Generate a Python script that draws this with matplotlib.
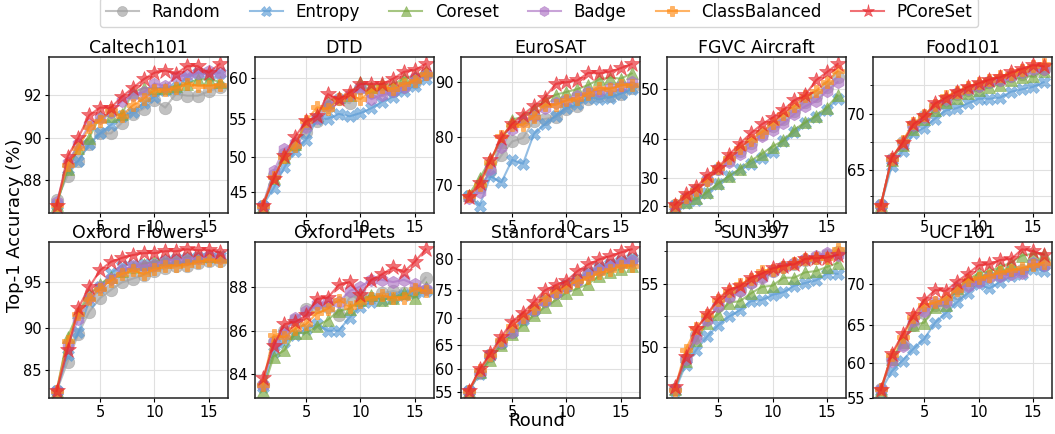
import matplotlib
matplotlib.use("Agg")
import matplotlib.pyplot as plt
import numpy as np

rounds = list(range(1, 17))

methods = ["Random", "Entropy", "Coreset", "Badge", "ClassBalanced", "PCoreSet"]
colors = ["#a0a0a0", "#5b9bd5", "#77a83f", "#ad73c4", "#ff8a12", "#e8252b"]
markers = ["o", "X", "^", "h", "P", "*"]
sizes = [9, 9, 9, 9, 9, 12]

# Top-1 accuracy (%) per round, one dict per dataset
caltech = {
    "Random":        [87.0, 88.2, 88.9, 89.7, 90.2, 90.2, 90.7, 91.1, 91.35, 91.75, 91.4, 92.05, 91.95, 91.95, 92.15, 92.35],
    "Entropy":       [86.8, 88.5, 88.9, 89.7, 90.2, 90.6, 91.0, 91.2, 91.6, 91.9, 92.2, 92.3, 92.8, 93.0, 92.9, 93.0],
    "Coreset":       [86.8, 88.5, 89.5, 90.0, 91.0, 91.0, 91.1, 92.1, 92.3, 92.3, 92.3, 92.4, 92.5, 92.7, 92.7, 92.6],
    "Badge":         [86.9, 88.8, 89.7, 90.6, 90.9, 91.2, 91.7, 92.0, 92.1, 92.5, 92.4, 92.8, 92.9, 93.0, 93.1, 93.0],
    "ClassBalanced": [86.8, 88.7, 89.5, 90.5, 90.8, 91.3, 91.0, 91.5, 91.8, 92.2, 92.2, 92.3, 92.5, 92.4, 92.4, 92.45],
    "PCoreSet":      [86.75, 89.1, 90.0, 91.05, 91.4, 91.4, 91.9, 92.3, 92.7, 93.0, 93.1, 92.95, 93.3, 93.3, 93.0, 93.4],
}
dtd = {
    "Random":        [42.8, 47.5, 50.5, 51.5, 53.4, 54.8, 56.5, 57.5, 57.0, 58.8, 58.3, 58.6, 58.5, 59.0, 59.5, 60.5],
    "Entropy":       [42.8, 45.5, 48.6, 50.9, 52.4, 55.0, 55.1, 55.7, 55.4, 55.8, 56.4, 57.2, 57.8, 58.5, 59.1, 59.9],
    "Coreset":       [42.8, 47.0, 50.0, 51.8, 54.5, 55.5, 57.2, 57.8, 58.0, 59.5, 59.0, 59.3, 59.2, 60.0, 60.2, 60.8],
    "Badge":         [42.8, 48.0, 51.2, 52.0, 54.0, 55.2, 56.8, 57.5, 58.0, 58.8, 57.5, 58.0, 58.5, 59.0, 60.0, 60.5],
    "ClassBalanced": [42.8, 47.2, 50.0, 51.5, 54.8, 56.5, 56.3, 57.5, 58.0, 57.5, 58.5, 59.0, 58.7, 59.3, 59.7, 60.5],
    "PCoreSet":      [42.8, 46.85, 50.2, 52.8, 54.8, 55.4, 58.1, 57.5, 58.3, 59.3, 59.3, 59.3, 59.9, 60.7, 60.9, 61.6],
}
eurosat = {
    "Random":        [67.5, 69.5, 73.0, 76.3, 79.1, 79.8, 83.1, 83.4, 83.7, 85.2, 85.8, 87.0, 87.5, 87.5, 88.0, 89.0],
    "Entropy":       [67.5, 65.3, 71.9, 70.6, 75.4, 74.6, 80.6, 82.4, 84.0, 85.5, 86.1, 87.3, 87.0, 87.3, 88.0, 88.8],
    "Coreset":       [67.8, 71.5, 75.5, 79.0, 83.3, 83.8, 85.3, 86.8, 87.8, 88.3, 88.8, 89.5, 90.5, 90.8, 90.6, 91.5],
    "Badge":         [67.0, 68.5, 73.5, 78.0, 81.5, 83.0, 84.0, 85.5, 86.3, 86.8, 87.5, 88.3, 88.5, 89.0, 89.3, 90.0],
    "ClassBalanced": [67.5, 70.0, 75.0, 80.2, 82.3, 82.3, 83.8, 86.0, 86.0, 86.8, 87.0, 88.0, 89.0, 88.8, 89.5, 89.5],
    "PCoreSet":      [67.4, 70.5, 75.3, 79.8, 82.5, 84.2, 85.8, 87.3, 89.7, 90.0, 90.3, 91.6, 91.5, 91.8, 92.4, 93.1],
}
fgvc = {
    "Random":        [20.2, 23.3, 26.0, 29.5, 32.6, 35.0, 37.2, 39.2, 41.1, 42.8, 44.4, 46.0, 47.7, 48.8, 50.5, 52.2],
    "Entropy":       [20.0, 21.3, 22.5, 25.0, 28.0, 30.5, 32.5, 34.0, 35.5, 37.0, 39.5, 41.5, 43.5, 44.8, 46.2, 48.2],
    "Coreset":       [20.0, 21.5, 23.0, 25.5, 28.3, 30.5, 32.7, 34.8, 36.5, 38.3, 39.7, 42.1, 43.6, 45.0, 46.6, 48.9],
    "Badge":         [20.0, 23.0, 26.0, 29.5, 32.5, 34.5, 36.5, 38.3, 40.8, 42.1, 43.4, 45.3, 46.8, 47.8, 49.7, 51.3],
    "ClassBalanced": [20.3, 23.5, 26.0, 29.5, 32.8, 35.5, 38.0, 39.9, 41.5, 43.4, 45.3, 46.8, 48.7, 49.7, 51.3, 53.2],
    "PCoreSet":      [20.3, 24.5, 27.0, 30.8, 32.9, 36.3, 39.0, 41.3, 43.2, 44.6, 46.1, 48.0, 48.9, 51.6, 53.0, 54.4],
}
food = {
    "Random":        [61.6, 66.0, 67.5, 69.0, 69.8, 70.6, 71.2, 71.7, 72.0, 72.4, 72.7, 72.9, 73.2, 73.4, 73.6, 73.8],
    "Entropy":       [61.6, 65.3, 66.7, 68.3, 68.8, 69.6, 70.3, 70.5, 70.9, 71.3, 71.3, 71.4, 71.9, 72.1, 72.3, 72.7],
    "Coreset":       [61.6, 65.9, 67.3, 68.7, 69.6, 70.3, 71.0, 71.4, 71.8, 72.0, 72.3, 72.5, 72.9, 73.1, 73.2, 73.6],
    "Badge":         [61.6, 66.0, 67.4, 69.0, 69.7, 70.7, 71.3, 71.8, 72.1, 72.4, 72.7, 72.9, 73.2, 73.5, 73.8, 73.8],
    "ClassBalanced": [61.6, 66.0, 67.6, 69.2, 69.9, 70.8, 71.5, 71.9, 72.3, 72.6, 72.9, 73.2, 73.4, 73.7, 74.0, 74.2],
    "PCoreSet":      [61.56, 66.1, 67.45, 69.1, 69.8, 70.9, 71.4, 71.9, 72.3, 72.6, 72.9, 73.1, 73.5, 73.8, 74.1, 74.0],
}
flowers = {
    "Random":        [82.5, 86.0, 89.3, 91.8, 93.3, 94.2, 95.0, 95.4, 95.8, 96.2, 96.5, 96.7, 96.8, 97.1, 97.3, 97.3],
    "Entropy":       [82.5, 86.8, 89.5, 93.0, 94.5, 96.0, 96.8, 96.9, 97.0, 97.1, 97.3, 97.5, 97.6, 97.7, 97.7, 97.8],
    "Coreset":       [82.5, 88.9, 91.8, 93.7, 94.8, 95.6, 96.2, 96.6, 97.0, 97.2, 97.5, 97.5, 97.7, 97.8, 97.8, 97.8],
    "Badge":         [82.5, 88.0, 91.0, 93.3, 94.5, 95.4, 96.3, 96.7, 96.8, 96.9, 97.3, 97.4, 97.5, 97.6, 97.8, 97.6],
    "ClassBalanced": [82.5, 88.5, 91.5, 93.2, 94.3, 95.2, 95.9, 96.3, 95.9, 96.4, 96.7, 96.8, 96.9, 97.2, 97.4, 97.3],
    "PCoreSet":      [82.5, 87.4, 92.2, 94.5, 96.3, 97.2, 97.6, 97.9, 98.1, 98.1, 98.3, 98.3, 98.5, 98.4, 98.4, 98.2],
}
pets = {
    "Random":        [83.5, 85.5, 86.0, 86.5, 87.0, 87.1, 87.1, 86.7, 87.5, 87.6, 87.5, 87.7, 87.8, 87.7, 87.8, 88.4],
    "Entropy":       [83.4, 85.0, 85.5, 85.8, 86.1, 86.3, 86.0, 86.0, 86.6, 87.1, 87.3, 87.4, 87.5, 87.6, 87.7, 87.8],
    "Coreset":       [83.2, 84.8, 85.1, 85.9, 85.9, 86.2, 86.5, 86.9, 87.0, 87.4, 87.6, 87.4, 87.5, 87.7, 87.5, 88.0],
    "Badge":         [83.5, 85.5, 85.9, 86.6, 86.9, 87.2, 87.3, 87.3, 87.8, 88.0, 88.3, 88.3, 88.2, 88.3, 88.1, 87.9],
    "ClassBalanced": [83.5, 85.8, 85.7, 86.1, 86.3, 86.8, 87.0, 87.4, 87.1, 87.3, 87.5, 87.6, 87.5, 87.5, 87.9, 87.8],
    "PCoreSet":      [83.8, 85.3, 86.3, 86.4, 86.7, 87.45, 87.5, 88.07, 88.2, 87.6, 88.3, 88.55, 88.85, 88.65, 89.1, 89.65],
}
cars = {
    "Random":        [55.2, 59.2, 62.8, 65.3, 67.5, 69.8, 71.4, 73.1, 74.6, 75.6, 76.6, 77.6, 78.5, 79.1, 79.6, 80.0],
    "Entropy":       [55.2, 59.0, 63.0, 65.3, 67.5, 69.7, 71.5, 73.3, 74.7, 75.8, 76.8, 77.9, 78.8, 79.3, 79.8, 80.2],
    "Coreset":       [55.2, 59.3, 62.0, 65.0, 67.0, 68.8, 70.5, 72.0, 73.2, 74.5, 75.2, 76.0, 77.3, 78.0, 78.5, 79.0],
    "Badge":         [55.2, 59.5, 63.0, 65.5, 67.5, 70.0, 71.5, 73.0, 74.5, 75.5, 76.5, 77.5, 78.3, 79.0, 79.5, 79.8],
    "ClassBalanced": [55.2, 59.8, 63.0, 66.0, 68.5, 70.3, 71.8, 73.5, 74.8, 75.5, 76.5, 77.0, 77.8, 78.3, 79.0, 79.0],
    "PCoreSet":      [55.2, 60.0, 63.3, 66.5, 69.4, 71.0, 72.9, 74.9, 75.8, 76.5, 78.1, 79.2, 80.0, 80.5, 81.1, 81.6],
}
sun = {
    "Random":        [46.4, 49.0, 51.0, 52.3, 53.3, 54.1, 54.6, 55.2, 55.6, 56.0, 56.3, 56.5, 56.8, 57.0, 57.2, 57.4],
    "Entropy":       [46.2, 48.5, 49.8, 50.9, 51.8, 52.5, 53.0, 53.7, 53.8, 54.2, 54.4, 54.9, 55.1, 55.3, 55.8, 55.8],
    "Coreset":       [46.4, 48.8, 50.6, 52.0, 52.7, 53.6, 53.7, 54.3, 54.8, 54.9, 55.5, 55.5, 55.9, 56.0, 56.3, 56.6],
    "Badge":         [46.4, 49.0, 50.8, 52.2, 53.3, 54.0, 54.5, 55.1, 55.5, 56.0, 56.3, 56.6, 56.9, 57.1, 57.3, 57.2],
    "ClassBalanced": [46.3, 49.8, 51.6, 52.6, 53.8, 54.5, 55.0, 55.4, 56.0, 56.1, 56.3, 56.6, 56.9, 57.0, 57.0, 57.6],
    "PCoreSet":      [46.55, 49.2, 51.5, 52.7, 53.9, 54.6, 54.85, 55.5, 55.8, 56.2, 56.4, 56.5, 56.9, 56.95, 57.0, 57.2],
}
ucf = {
    "Random":        [56.3, 60.5, 62.5, 65.0, 66.5, 67.5, 68.0, 69.0, 70.0, 70.5, 70.8, 71.2, 71.5, 71.7, 72.3, 72.2],
    "Entropy":       [56.0, 58.8, 60.3, 61.9, 63.2, 65.3, 66.5, 67.8, 68.9, 70.0, 69.5, 70.3, 70.9, 71.2, 71.8, 71.5],
    "Coreset":       [56.2, 60.5, 62.8, 65.0, 65.3, 67.3, 67.5, 69.5, 70.5, 71.3, 71.5, 72.0, 72.5, 73.3, 73.5, 73.5],
    "Badge":         [56.3, 60.2, 62.3, 65.5, 66.8, 67.8, 67.8, 69.5, 69.8, 70.3, 70.8, 71.0, 71.2, 71.3, 72.5, 72.2],
    "ClassBalanced": [56.3, 61.0, 63.5, 66.0, 67.5, 67.8, 68.3, 69.3, 70.5, 70.7, 71.0, 71.4, 71.6, 71.9, 72.2, 72.5],
    "PCoreSet":      [56.1, 61.2, 63.8, 66.2, 68.1, 69.3, 69.2, 70.3, 71.2, 72.2, 72.3, 72.8, 72.9, 74.0, 73.8, 73.4],
}

datasets = [
    ("Caltech101", caltech, [88, 90, 92], []),
    ("DTD", dtd, [45, 50, 55, 60], []),
    ("EuroSAT", eurosat, [70, 80, 90], []),
    ("FGVC Aircraft", fgvc, [20, 30, 40, 50], []),
    ("Food101", food, [65, 70], [62.5, 67.5, 72.5]),
    ("Oxford Flowers", flowers, [85, 90, 95], []),
    ("Oxford Pets", pets, [84, 86, 88], []),
    ("Stanford Cars", cars, [55, 60, 65, 70, 75, 80], []),
    ("SUN397", sun, [50, 55], [47.5, 52.5, 57.5]),
    ("UCF101", ucf, [55, 60, 65, 70], []),
]


def forward(y):
    return np.asarray(y, dtype=float) ** 2


def inverse(y):
    return np.sqrt(np.maximum(np.asarray(y, dtype=float), 0))


plt.rcParams["font.family"] = "DejaVu Sans"
fig, axes = plt.subplots(2, 5, figsize=(10.55, 4.34), dpi=100)
fig.subplots_adjust(left=0.046, right=0.997, top=0.869, bottom=0.083,
                    wspace=0.15, hspace=0.19)

for ax, (title, data, yt, yminor) in zip(axes.flat, datasets):
    for m, c, mk, ms in zip(methods, colors, markers, sizes):
        ax.plot(rounds, data[m], color=c, marker=mk, markersize=ms, lw=1.5,
                alpha=0.65, label=m, markeredgewidth=0.5)
    ax.set_yscale("function", functions=(forward, inverse))
    ax.set_yticks(yt)
    ax.set_yticks(yminor, minor=True)
    ax.yaxis.set_major_formatter(matplotlib.ticker.FormatStrFormatter("%g"))
    ax.set_xticks([5, 10, 15])
    ax.set_title(title, fontsize=12.5, pad=2)
    ax.tick_params(labelsize=10.5, length=3, width=0.8, pad=2)
    ax.tick_params(which="minor", length=2, width=0.6)
    ax.grid(True, which="both", color="#e0e0e0", lw=0.8)
    for s in ax.spines.values():
        s.set_linewidth(1.1)
        s.set_color("#222222")

fig.text(0.014, 0.48, "Top-1 Accuracy (%)", rotation=90, ha="center",
         va="center", fontsize=13)
fig.text(0.509, 0.03, "Round", ha="center", va="center", fontsize=13)

handles, labels = axes.flat[0].get_legend_handles_labels()
fig.legend(handles, labels, loc="upper center", bbox_to_anchor=(0.511, 1.025),
           ncol=6, fontsize=12, frameon=True, handlelength=2.0,
           columnspacing=1.75, markerscale=0.8, borderpad=0.35,
           handletextpad=0.75)

fig.savefig("out.png", dpi=100)
